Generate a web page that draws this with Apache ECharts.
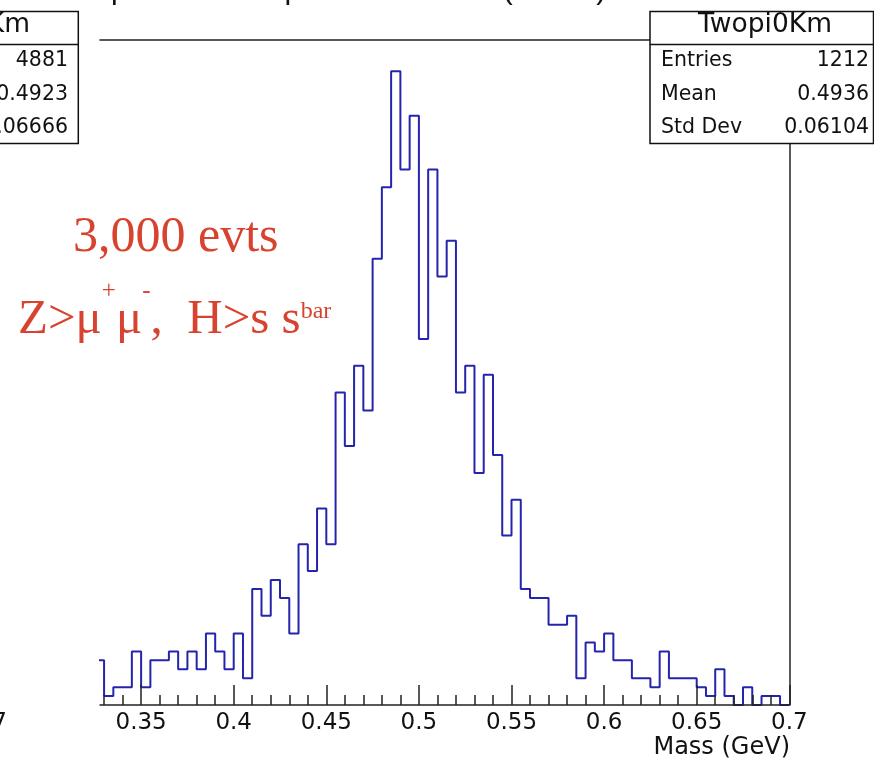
<!DOCTYPE html>
<html><head><meta charset="utf-8">
<script src="https://cdn.jsdelivr.net/npm/echarts@6/dist/echarts.min.js"></script>
<style>html,body{margin:0;padding:0;background:#fff;overflow:hidden}#c{width:874px;height:762px}</style>
</head><body><div id="c"></div>
<script>
// ---- data ----
const binLow = 0.325;
const binWidth = 0.005;
const counts = [5,
  1,2,2,6,
  2,5,5,6,4,6,4,8,6,4,
  8,3,13,10,14,12,8,18,15,22,
  18,35,29,38,33,50,58,71,60,66,
  41,60,48,52,35,38,26,37,28,19,
  23,13,12,12,9,9,10,3,7,6,
  8,5,5,3,3,2,6,3,3,3,
  2,1,4,1,0,2,0,1,1,0];
const xMin = 0.3278;
const xMax = 0.7;
const yMax = 74.55;
const majorTicks = [0.35,0.4,0.45,0.5,0.55,0.6,0.65,0.7];
const minorTicks = [0.33,0.34,0.36,0.37,0.38,0.39,0.41,0.42,0.43,0.44,0.46,0.47,0.48,0.49,
  0.51,0.52,0.53,0.54,0.56,0.57,0.58,0.59,0.61,0.62,0.63,0.64,0.66,0.67,0.68,0.69];
const histName = 'Twopi0Km';
const statNames = ['Entries','Mean','Std Dev'];
const statsRight = ['1212','0.4936','0.06104'];
const statsLeft = ['4881','0.4923','0.06666'];
const xTitle = 'Mass (GeV)';
const plotTitle = 'Twopi0Km mass peak for all evts (GeV/c)';
const note1 = '3,000 evts';

// ---- chart ----
const pts = counts.map((c,i)=>[+(binLow+i*binWidth).toFixed(4), c]);
pts.push([+(binLow+counts.length*binWidth).toFixed(4), counts[counts.length-1]]);

const sans = 'DejaVu Sans';
const red = '#d8432f';
const frameColor = '#222';
const rowY = [61, 94.5, 128];

const G = [];
// right stats box
G.push({type:'rect', z:100, shape:{x:650, y:11.5, width:223.5, height:132}, style:{fill:'#fff', stroke:'#111', lineWidth:1.5}});
G.push({type:'line', z:101, shape:{x1:650, y1:44.5, x2:874, y2:44.5}, style:{stroke:'#111', lineWidth:1.5}});
G.push({type:'text', z:102, x:765, y:25, style:{text:histName, font:'26.5px "'+sans+'"', fill:'#111', align:'center', verticalAlign:'middle'}});
statNames.forEach((n,i)=>{
  G.push({type:'text', z:102, x:661, y:rowY[i], style:{text:n, font:'20.5px "'+sans+'"', fill:'#111', align:'left', verticalAlign:'middle'}});
  G.push({type:'text', z:102, x:869, y:rowY[i], style:{text:statsRight[i], font:'20.5px "'+sans+'"', fill:'#111', align:'right', verticalAlign:'middle'}});
});
// left (neighbouring) stats box, mostly cut off
G.push({type:'rect', z:100, shape:{x:-40, y:11.5, width:118.3, height:132}, style:{fill:'#fff', stroke:'#111', lineWidth:1.5}});
G.push({type:'line', z:101, shape:{x1:-40, y1:44.5, x2:78.3, y2:44.5}, style:{stroke:'#111', lineWidth:1.5}});
G.push({type:'text', z:102, x:30, y:25, style:{text:histName, font:'26.5px "'+sans+'"', fill:'#111', align:'right', verticalAlign:'middle'}});
statsLeft.forEach((v,i)=>{
  G.push({type:'text', z:102, x:68, y:rowY[i], style:{text:v, font:'20.5px "'+sans+'"', fill:'#111', align:'right', verticalAlign:'middle'}});
});
// neighbouring axis label fragment
G.push({type:'text', z:102, x:7, y:723, style:{text:'0.7', font:'23px "'+sans+'"', fill:'#111', align:'right', verticalAlign:'middle'}});
// title (cut off at top)
G.push({type:'text', z:102, x:56, y:-9.4, style:{text:plotTitle, font:'30px "Liberation Sans"', fill:'#111', align:'left', verticalAlign:'middle'}});
// x title
G.push({type:'text', z:102, x:790, y:748, style:{text:xTitle, font:'24px "'+sans+'"', fill:'#111', align:'right', verticalAlign:'middle'}});
// red annotations
G.push({type:'text', z:102, x:73, y:238, style:{text:note1, font:'50px "Liberation Serif"', fill:red, align:'left', verticalAlign:'middle'}});
G.push({type:'text', z:102, x:18, y:285.5, style:{
  text:'{n|Z>μ}{p|+}{n|μ}{p|-}{n|,  H>s s}{s|bar}',
  align:'left', verticalAlign:'top', fill:red,
  rich:{
    n:{fontFamily:'Liberation Serif', fontSize:49, fill:red, verticalAlign:'top', height:70},
    p:{fontFamily:'Liberation Serif', fontSize:25, fill:red, verticalAlign:'top', height:12},
    s:{fontFamily:'Liberation Serif', fontSize:24, fill:red, verticalAlign:'top', height:52}
  }}});

const chart = echarts.init(document.getElementById('c'), null, {renderer:'canvas'});
chart.setOption({
  animation:false,
  backgroundColor:'#fff',
  grid:{left:100, right:84.7, top:39.5, bottom:57, containLabel:false},
  xAxis:[
    {type:'value', min:xMin, max:xMax, position:'bottom', z:3,
     axisLine:{show:true, onZero:false, lineStyle:{color:frameColor, width:1.5}},
     axisTick:{show:true, inside:true, length:20, customValues:majorTicks, lineStyle:{color:frameColor, width:1.5}},
     axisLabel:{show:true, customValues:majorTicks, margin:7, color:'#111', fontFamily:sans, fontSize:23,
       formatter:(v)=>String(+v.toFixed(3))},
     splitLine:{show:false}},
    {type:'value', min:xMin, max:xMax, position:'bottom', z:3,
     axisLine:{show:false},
     axisTick:{show:true, inside:true, length:10, customValues:minorTicks, lineStyle:{color:frameColor, width:1.5}},
     axisLabel:{show:false}, splitLine:{show:false}},
    {type:'value', min:xMin, max:xMax, position:'top', z:3,
     axisLine:{show:true, onZero:false, lineStyle:{color:frameColor, width:1.5}},
     axisTick:{show:false}, axisLabel:{show:false}, splitLine:{show:false}}
  ],
  yAxis:[{type:'value', min:0, max:yMax, position:'right', z:3,
     axisLine:{show:true, onZero:false, lineStyle:{color:frameColor, width:1.5}},
     axisTick:{show:false}, axisLabel:{show:false}, splitLine:{show:false}}],
  series:[{type:'line', xAxisIndex:0, yAxisIndex:0, data:pts, step:'end', showSymbol:false, symbol:'none',
     clip:true, z:2, lineStyle:{color:'#2424ac', width:2}}],
  graphic:G
});
</script></body></html>
